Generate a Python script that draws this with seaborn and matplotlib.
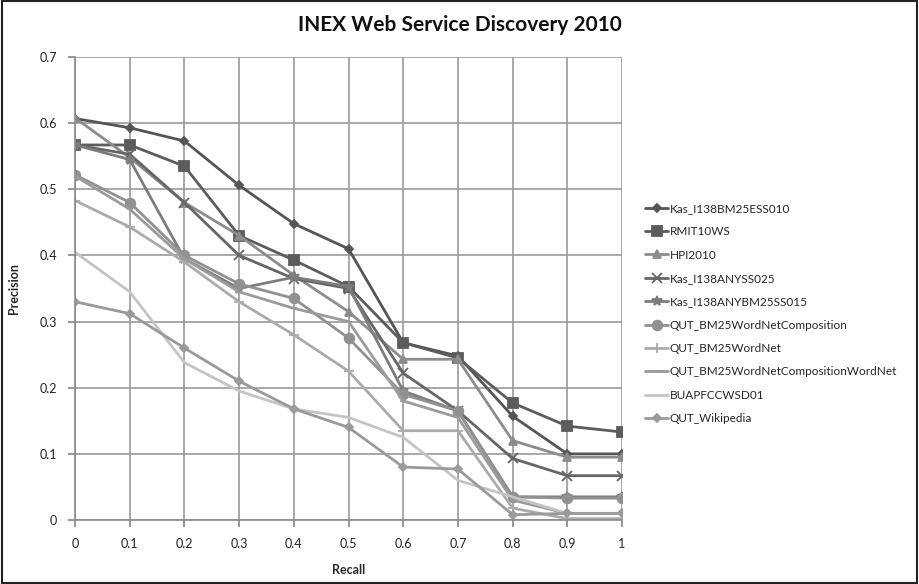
import numpy as np
import pandas as pd
import matplotlib
matplotlib.use("Agg")
import matplotlib.pyplot as plt
import seaborn as sns

recall = [0, 0.1, 0.2, 0.3, 0.4, 0.5, 0.6, 0.7, 0.8, 0.9, 1.0]

kas_bm25ess010 = [0.607, 0.593, 0.573, 0.506, 0.448, 0.410, 0.268, 0.248, 0.157, 0.100, 0.100]
rmit10ws = [0.567, 0.567, 0.535, 0.430, 0.393, 0.353, 0.268, 0.245, 0.177, 0.142, 0.133]
hpi2010 = [0.608, 0.548, 0.480, 0.430, 0.370, 0.315, 0.243, 0.243, 0.120, 0.095, 0.095]
kas_anyss025 = [0.567, 0.553, 0.480, 0.400, 0.365, 0.350, 0.222, 0.165, 0.093, 0.067, 0.067]
kas_anybm25ss015 = [0.567, 0.545, 0.395, 0.350, 0.367, 0.353, 0.195, 0.165, 0.035, 0.035, 0.035]
qut_bm25wnc = [0.522, 0.480, 0.400, 0.357, 0.335, 0.275, 0.190, 0.165, 0.035, 0.033, 0.033]
qut_bm25wn = [0.483, 0.443, 0.390, 0.330, 0.280, 0.225, 0.135, 0.135, 0.018, 0.002, 0.002]
qut_bm25wncwn = [0.520, 0.470, 0.395, 0.345, 0.320, 0.300, 0.180, 0.155, 0.030, 0.010, 0.010]
buapfccwsd01 = [0.405, 0.345, 0.238, 0.195, 0.168, 0.155, 0.125, 0.060, 0.035, 0.010, 0.010]
qut_wikipedia = [0.330, 0.312, 0.260, 0.210, 0.168, 0.140, 0.080, 0.077, 0.008, 0.010, 0.010]

names = ["Kas_I138BM25ESS010", "RMIT10WS", "HPI2010", "Kas_I138ANYSS025",
         "Kas_I138ANYBM25SS015", "QUT_BM25WordNetComposition", "QUT_BM25WordNet",
         "QUT_BM25WordNetCompositionWordNet", "BUAPFCCWSD01", "QUT_Wikipedia"]
series = [kas_bm25ess010, rmit10ws, hpi2010, kas_anyss025, kas_anybm25ss015,
          qut_bm25wnc, qut_bm25wn, qut_bm25wncwn, buapfccwsd01, qut_wikipedia]

x_ticks = [0, 0.1, 0.2, 0.3, 0.4, 0.5, 0.6, 0.7, 0.8, 0.9, 1]
x_labels = ["0", "0.1", "0.2", "0.3", "0.4", "0.5", "0.6", "0.7", "0.8", "0.9", "1"]
y_ticks = [0, 0.1, 0.2, 0.3, 0.4, 0.5, 0.6, 0.7]
y_labels = ["0", "0.1", "0.2", "0.3", "0.4", "0.5", "0.6", "0.7"]

rows = []
for n, s in zip(names, series):
    for r, p in zip(recall, s):
        rows.append({"Recall": r, "Precision": p, "Run": n})
df = pd.DataFrame(rows)

colors = ["#555555", "#5c5c5c", "#8c8c8c", "#666666", "#7c7c7c",
          "#919191", "#ababab", "#9b9b9b", "#c4c4c4", "#9a9a9a"]
markers = ["D", "s", "^", "x", "*", "o", "+", "_", "", "D"]
msizes = [4.5, 7, 6, 7, 7, 7, 7, 5, 0, 4.5]

sns.set_theme(style="white")
plt.rcParams['font.family'] = ['Lato', 'DejaVu Sans']

fig = plt.figure(figsize=(9.19, 5.84), dpi=100)
ax = fig.add_axes([75/919, 1-520/584, (622-75)/919, (520-57)/584])

for n, c, m, ms in zip(names, colors, markers, msizes):
    sub = df[df["Run"] == n]
    sns.lineplot(data=sub, x="Recall", y="Precision", ax=ax, color=c,
                 marker=m if m else None, markersize=ms, linewidth=2.0,
                 markeredgecolor=c, markeredgewidth=1.3, label=n)

ax.set_xlim(0, 1)
ax.set_ylim(0, 0.7)
ax.set_xticks(x_ticks)
ax.set_xticklabels(x_labels)
ax.set_yticks(y_ticks)
ax.set_yticklabels(y_labels)
ax.grid(True, color="#9a9a9a", linewidth=1.2)
ax.set_axisbelow(True)
for sp in ["top", "right"]:
    ax.spines[sp].set_visible(False)
for sp in ["left", "bottom"]:
    ax.spines[sp].set_color("#8a8a8a")
    ax.spines[sp].set_linewidth(1.2)
ax.tick_params(axis="both", length=5, color="#8a8a8a", labelsize=9, labelcolor="#222222",
               direction="out", bottom=True, left=True, pad=8)
ax.set_xlabel("Recall", fontsize=9, fontweight="bold", labelpad=10)
ax.set_ylabel("Precision", fontsize=9, fontweight="bold", labelpad=14)

fig.suptitle("INEX Web Service Discovery 2010", x=0.5, y=0.975, fontsize=15, fontweight="bold", color="#111111")

leg = ax.legend(loc="upper left", bbox_to_anchor=(640/919, 1-198/584), bbox_transform=fig.transFigure,
                frameon=False, fontsize=8.5, handlelength=2.0, handletextpad=0.1,
                labelspacing=1.05, borderaxespad=0)

fig.patches.append(plt.Rectangle((0.002, 0.002), 0.996, 0.996, transform=fig.transFigure,
                                 fill=False, edgecolor="#222222", linewidth=1.5))
fig.savefig("out.png", dpi=100)
